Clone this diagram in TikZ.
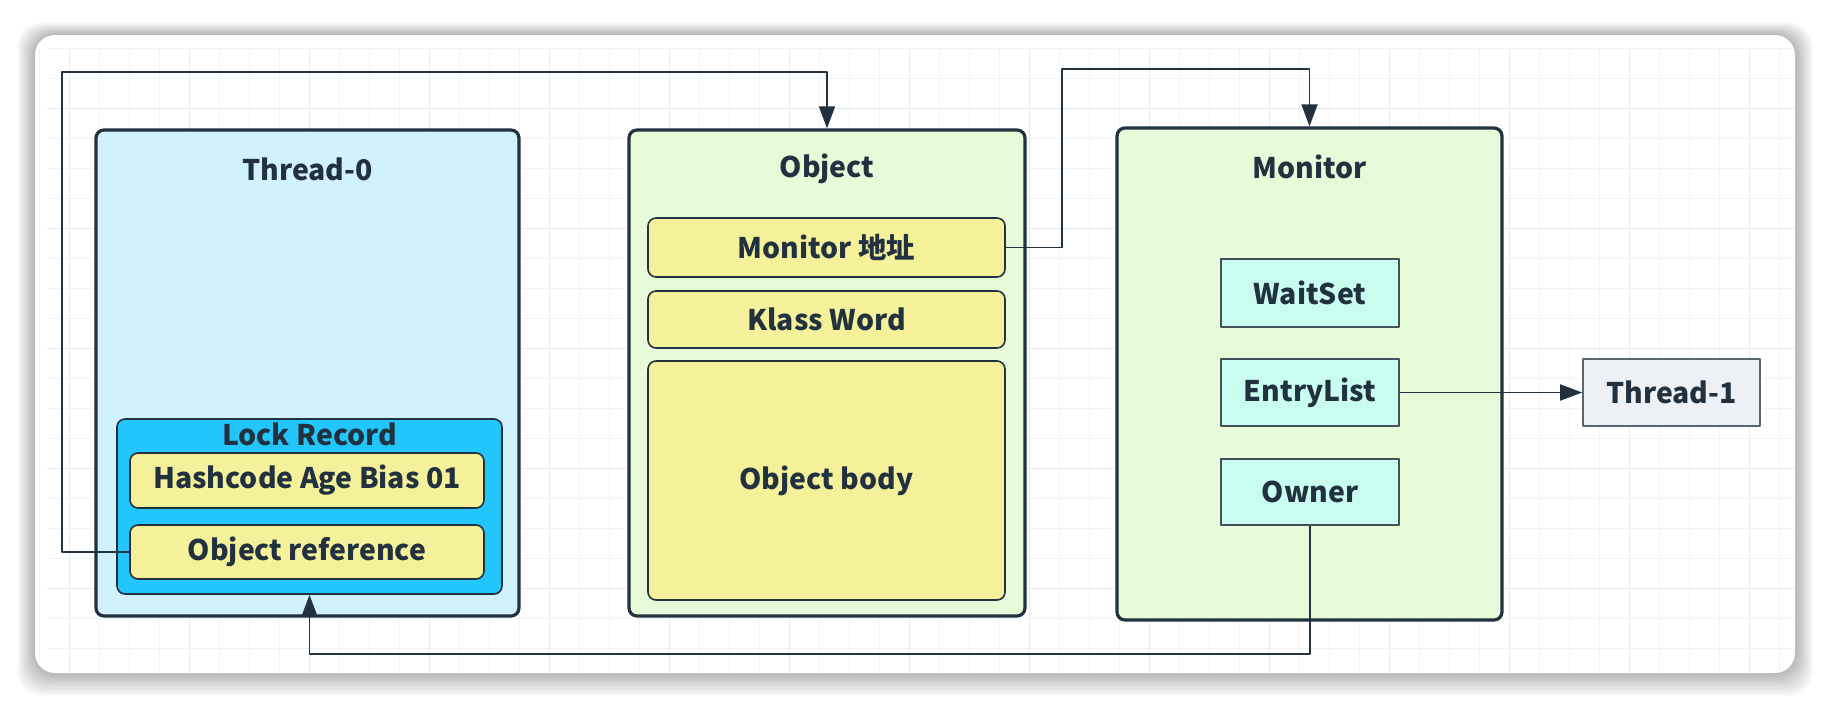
\documentclass[tikz,border=0pt]{standalone}
\usepackage{fontspec}
\setmainfont{Noto Sans CJK SC}
\usetikzlibrary{arrows.meta}

\definecolor{lineC}{HTML}{22313F}
\definecolor{threadC}{HTML}{D1F1FD}
\definecolor{lockC}{HTML}{22C6FB}
\definecolor{fieldC}{HTML}{F5F19A}
\definecolor{objC}{HTML}{E8FBD8}
\definecolor{setC}{HTML}{C8FDF0}
\definecolor{threadoneC}{HTML}{EDF1F5}
\definecolor{gridC}{HTML}{F1F4F5}
\definecolor{gridmajC}{HTML}{E6EBEE}

\begin{document}
\begin{tikzpicture}[x=0.5pt, y=-0.5pt, >={Triangle[length=11pt,width=8pt]}, line join=round,
    txt/.style={font=\fontsize{14.2}{17}\selectfont\bfseries, text=lineC},
    outer/.style={draw=lineC, line width=1.6pt, rounded corners=4pt, inner sep=0pt},
    field/.style={draw=lineC, line width=0.8pt, fill=fieldC, rounded corners=4pt, inner sep=0pt, txt},
    slot/.style={draw=lineC!85, line width=0.8pt, fill=setC, inner sep=0pt, txt},
    link/.style={draw=lineC, line width=0.8pt}]
    \useasboundingbox (0,0) rectangle (1830,708);
    \fill[white] (0,0) rectangle (1830,708);

    % 卡片阴影与卡片
    \foreach \s in {1,...,18}
        \fill[black, opacity=0.014, rounded corners=12pt] (35-\s,35-\s*0.7) rectangle (1795+\s,673+\s*1.3);
    \fill[white, rounded corners=10pt] (35,35) rectangle (1795,673);

    % 背景网格
    \begin{scope}
        \clip[rounded corners=10pt] (35,35) rectangle (1795,673);
        \foreach \gx in {39,69,...,1790}
            \draw[gridC, line width=0.4pt] (\gx,48) -- (\gx,673);
        \foreach \gy in {48,78,...,673}
            \draw[gridC, line width=0.4pt] (47,\gy) -- (1795,\gy);
        \foreach \gx in {69,189,...,1790}
            \draw[gridmajC, line width=0.4pt] (\gx,48) -- (\gx,673);
        \foreach \gy in {108,228,...,673}
            \draw[gridmajC, line width=0.4pt] (47,\gy) -- (1795,\gy);
    \end{scope}

    % 1. Thread-0 栈帧
    \node[outer, fill=threadC, minimum width=211.5pt, minimum height=243pt] (thread0) at (307.5,373) {};
    \node[txt] (thread0title) at (307.5,169) {Thread-0};
    \node[draw=lineC, line width=0.8pt, fill=lockC, rounded corners=4pt, minimum width=192.5pt, minimum height=87.5pt] (lockrec) at (309.5,506.5) {};
    \node[txt] (lockrectitle) at (309.5,434) {Lock Record};
    \node[field, minimum width=177pt, minimum height=27.5pt] (hashcode) at (307,480.5) {Hashcode Age Bias 01};
    \node[field, minimum width=177pt, minimum height=27pt] (objref) at (307,552) {Object reference};

    % 2. Object 对象头
    \node[outer, fill=objC, minimum width=198pt, minimum height=243pt] (object) at (827,373) {};
    \node[txt] (objecttitle) at (827,169) {Object};
    \node[field, minimum width=178.5pt, minimum height=29.5pt] (monaddr) at (826.5,247.5) {Monitor 地址};
    \node[field, minimum width=178.5pt, minimum height=28.5pt] (klass) at (826.5,319.5) {Klass Word};
    \node[field, minimum width=178.5pt, minimum height=119.5pt] (body) at (826.5,480.5) {Object body};

    % 3. Monitor
    \node[outer, fill=objC, minimum width=192.5pt, minimum height=246pt] (monitor) at (1309.5,374) {};
    \node[txt] (monitortitle) at (1309.5,167) {Monitor};
    \node[slot, minimum width=89pt, minimum height=34pt] (waitset) at (1310,293) {WaitSet};
    \node[slot, minimum width=89pt, minimum height=33.5pt] (entrylist) at (1310,392.5) {EntryList};
    \node[slot, minimum width=89pt, minimum height=33pt] (owner) at (1310,492) {Owner};

    % 4. Thread-1
    \node[draw=lineC!75, line width=0.8pt, fill=threadoneC, inner sep=0pt, txt, minimum width=88.5pt, minimum height=33.5pt] (thread1) at (1671.5,392.5) {Thread-1};

    % 连线
    \coordinate (refA) at (62,552);
    \coordinate (refB) at (62,72);
    \coordinate (refC) at (object.north |- refB);
    \draw[link, ->] (objref.west) -- (refA) -- (refB) -- (refC) -- (object.north);

    \coordinate (addrA) at (1062,247.5);
    \coordinate (addrB) at (1062,69);
    \coordinate (addrC) at (monitor.north |- addrB);
    \draw[link, ->] (monaddr.east) -- (addrA) -- (addrB) -- (addrC) -- (monitor.north);

    \draw[link, ->] (entrylist.east) -- (thread1.west);

    \coordinate (ownA) at (owner.south |- 0,654);
    \coordinate (ownB) at (lockrec.south |- 0,654);
    \draw[link, ->] (owner.south) -- (ownA) -- (ownB) -- (lockrec.south);
\end{tikzpicture}
\end{document}
